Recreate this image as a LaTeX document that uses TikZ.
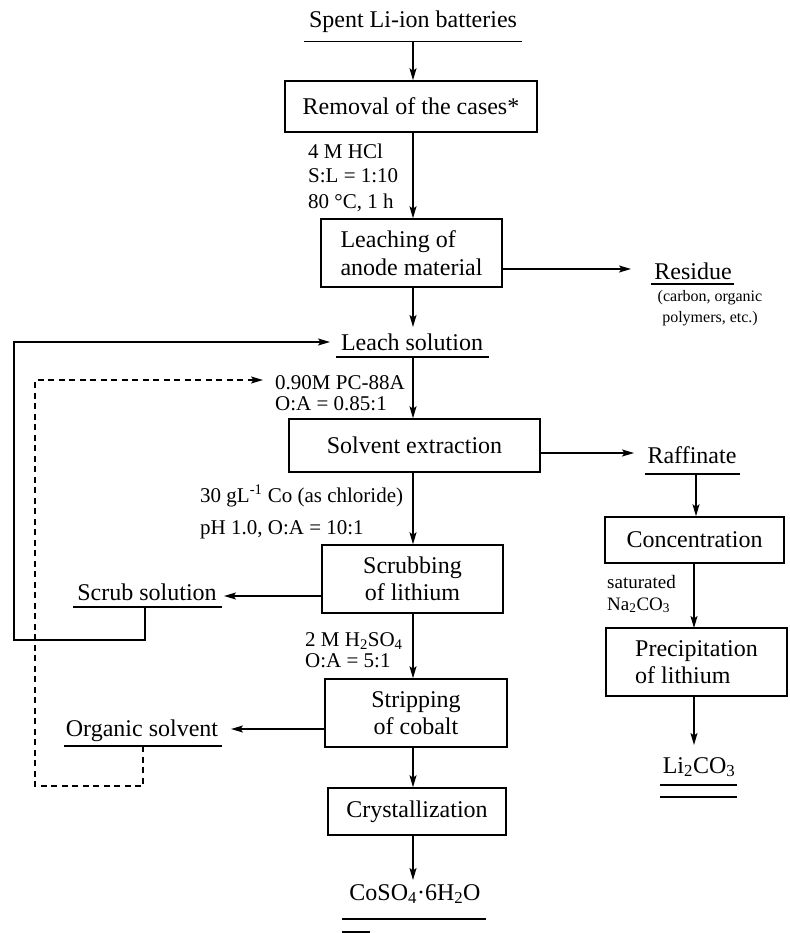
\documentclass[tikz,border=0pt]{standalone}
\usepackage{fontspec}
\setmainfont{Liberation Serif}
\usetikzlibrary{arrows.meta}
\newcommand\fbig{\fontsize{24}{27.5}\selectfont}
\newcommand\fmid{\fontsize{21}{24}\selectfont}
\newcommand\fsat{\fontsize{19}{22}\selectfont}
\newcommand\fsmall{\fontsize{16}{21}\selectfont}

\begin{document}
\begin{tikzpicture}[x=1pt,y=-1pt,
  procbox/.style={draw, line width=1.5pt, inner sep=0pt, font=\fbig, align=center},
  stream/.style={font=\fbig, inner sep=0pt, anchor=base},
  cond/.style={font=\fmid, inner sep=0pt, anchor=base west},
  note/.style={font=\fsmall, inner sep=0pt, anchor=base},
  satlbl/.style={font=\fsat, inner sep=0pt, anchor=base west},
  flow/.style={line width=1.4pt, -{Stealth[length=12pt,width=7pt,inset=2.5pt]}},
  uline/.style={line width=1.5pt},
  recycle/.style={line width=1.4pt, dash pattern=on 6pt off 4.5pt}]

\useasboundingbox (0,0) rectangle (789,933);

% ---------- feed ----------
\node[stream] (spent) at (413,28) {Spent Li-ion batteries};
\draw[uline] (304,41.5) -- (522,41.5);
\coordinate (spentU) at (413,41.5);

% ---------- main column (cobalt line) ----------
\node[procbox, minimum width=252pt, minimum height=51pt] (rem) at (411,106.5) {Removal of the cases*};
\node[procbox, minimum width=181pt, minimum height=68pt, align=left] (leach) at (411.5,253) {Leaching of\\anode material};
\node[procbox, minimum width=251pt, minimum height=53pt] (solv) at (414.5,445.5) {Solvent extraction};
\node[procbox, minimum width=181pt, minimum height=68pt] (scrub) at (412.5,579) {Scrubbing\\of lithium};
\node[procbox, minimum width=182pt, minimum height=68pt] (strip) at (416,713) {Stripping\\of cobalt};
\node[procbox, minimum width=178pt, minimum height=47pt] (cryst) at (417,811.5) {Crystallization};

% leaching conditions
\node[cond] (hcl) at (308,159) {4 M HCl};
\node[cond] (sl) at (308,183) {S:L = 1:10};
\node[cond] (temp) at (308,208) {80 \textdegree C, 1 h};

% leach solution
\node[stream] (lsol) at (412,350) {Leach solution};
\draw[uline] (336,357) -- (489,357);
\coordinate (lsolU) at (413,357);
\coordinate (lsolIn) at (330,342);

% extraction conditions
\node[cond] (pc) at (275,389) {0.90M PC-88A};
\node[cond] (oa1) at (275,410) {O:A = 0.85:1};
\coordinate (pcIn) at (263,380);

% scrubbing conditions
\node[cond] (co) at (200,502) {30 gL\textsuperscript{-1} Co (as chloride)};
\node[cond] (ph) at (200,534) {pH 1.0, O:A = 10:1};

% stripping conditions
\node[cond] (h2so4) at (305,646) {2 M H\textsubscript{2}SO\textsubscript{4}};
\node[cond] (oa3) at (305,667) {O:A = 5:1};

% cobalt product
\node[stream] (coso4) at (415,900) {CoSO\textsubscript{4}\textperiodcentered 6H\textsubscript{2}O};
\draw[uline] (342,919) -- (486,919);
\draw[uline] (342,932) -- (370,932);
\coordinate (coIn) at (413,880);

% ---------- residue ----------
\node[stream] (res) at (693,279) {Residue};
\draw[uline] (651,284) -- (734,284);
\node[note] (resn1) at (710,301) {(carbon, organic};
\node[note] (resn2) at (710,322) {polymers, etc.)};
\coordinate (resIn) at (631,269);

% ---------- lithium line ----------
\node[stream] (raff) at (692,463) {Raffinate};
\draw[uline] (645,474) -- (740,474);
\coordinate (raffU) at (696,474);
\coordinate (raffIn) at (634,453);
\node[procbox, minimum width=179pt, minimum height=46pt] (conc) at (694.5,540) {Concentration};
\node[satlbl] (sat) at (607,588) {saturated};
\node[satlbl] (na) at (607,610) {Na\textsubscript{2}CO\textsubscript{3}};
\node[procbox, minimum width=181pt, minimum height=68pt, align=left] (prec) at (696.5,662) {Precipitation\\of lithium};
\node[stream] (li) at (699,773) {Li\textsubscript{2}CO\textsubscript{3}};
\draw[uline] (660,785) -- (737,785);
\draw[uline] (660,797) -- (737,797);
\coordinate (liIn) at (694,745);

% ---------- side streams ----------
\node[stream] (scrubsol) at (147,600) {Scrub solution};
\draw[uline] (73,607) -- (222,607);
\coordinate (scrubU) at (145,607);
\coordinate (scrubIn) at (224,596);

\node[stream] (org) at (142,736) {Organic solvent};
\draw[uline] (64,746) -- (222,746);
\coordinate (orgU) at (143,746);
\coordinate (orgIn) at (231,729);

% ---------- connectors ----------
\draw[flow] (spentU) -- (spentU |- rem.north);
\draw[flow] (spentU |- rem.south) -- (spentU |- leach.north);
\draw[flow] (leach.east |- resIn) -- (resIn);
\draw[flow] (spentU |- leach.south) -- (413,327);
\draw[flow] (lsolU) -- (lsolU |- solv.north);
\draw[flow] (solv.east |- raffIn) -- (raffIn);
\draw[flow] (raffU) -- (raffU |- conc.north);
\draw[flow] (694,563) -- (694,628);
\draw[flow] (694,696) -- (liIn);
\draw[flow] (lsolU |- solv.south) -- (lsolU |- scrub.north);
\draw[flow] (scrub.west |- scrubIn) -- (scrubIn);
\draw[flow] (lsolU |- scrub.south) -- (lsolU |- strip.north);
\draw[flow] (strip.west |- orgIn) -- (orgIn);
\draw[flow] (lsolU |- strip.south) -- (lsolU |- cryst.north);
\draw[flow] (lsolU |- cryst.south) -- (coIn);

% scrub solution returned to the leach solution
\draw[flow] (scrubU) -- ++(0,33) -| (14,342) -- (lsolIn);
% organic solvent recycled to extraction
\draw[recycle, -{Stealth[length=12pt,width=7pt,inset=2.5pt]}] (orgU) -- ++(0,40) -| (35,380) -- (pcIn);

\end{tikzpicture}
\end{document}
